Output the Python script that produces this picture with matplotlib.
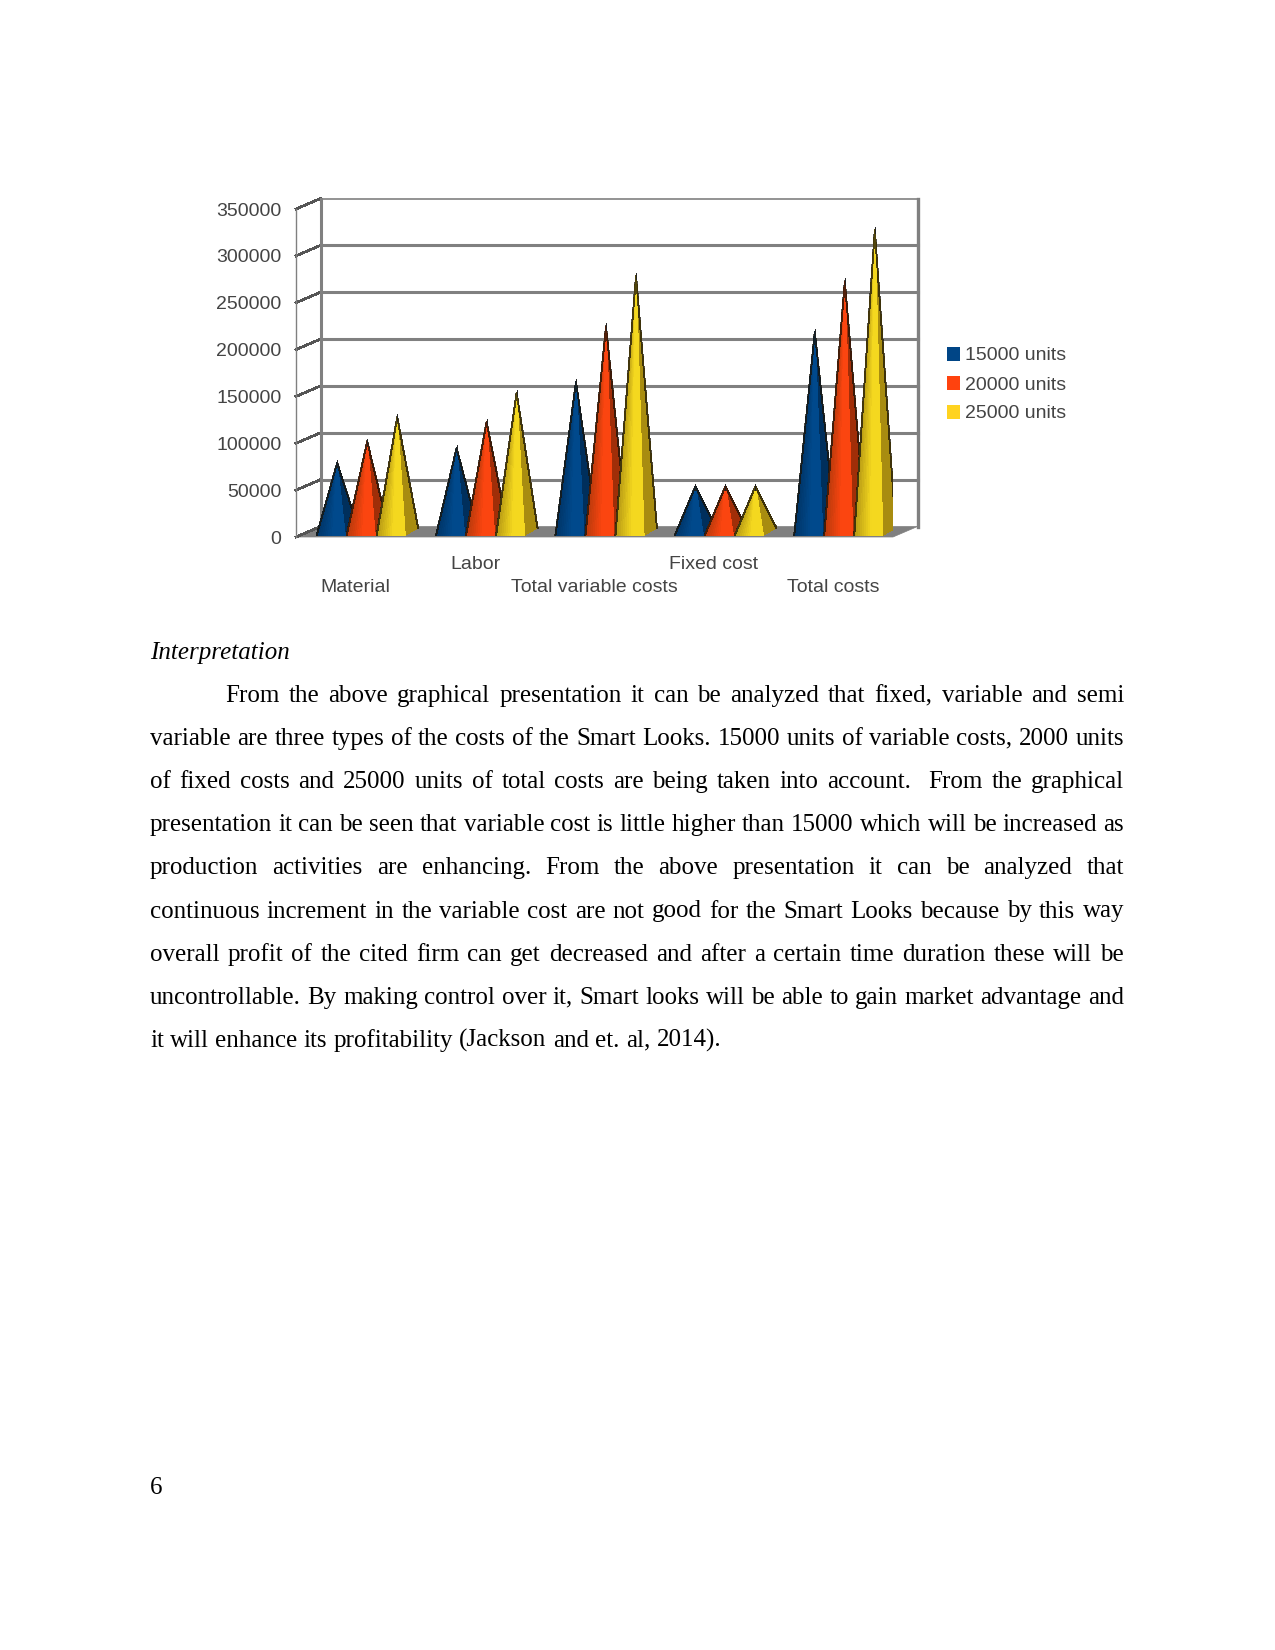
import matplotlib
matplotlib.use("Agg")
import matplotlib.pyplot as plt
import numpy as np
from matplotlib.patches import Polygon, Rectangle

W, H = 1275, 1650

categories = ["Material", "Labor", "Total variable costs", "Fixed cost", "Total costs"]
series_names = ["15000 units", "20000 units", "25000 units"]
units_15000 = [77000, 93000, 164000, 52000, 217000]
units_20000 = [100000, 121000, 223000, 52000, 271000]
units_25000 = [126000, 152000, 277000, 52000, 326000]
y_ticks = [0, 50000, 100000, 150000, 200000, 250000, 300000, 350000]

heading = "Interpretation"
body_lines = [
    "From the above graphical presentation it can be analyzed that fixed, variable and semi",
    "variable are three types of the costs of the Smart Looks. 15000 units of variable costs, 2000 units",
    "of fixed costs and 25000 units of total costs are being taken into account.  From the graphical",
    "presentation it can be seen that variable cost is little higher than 15000 which will be increased as",
    "production activities are enhancing. From the above presentation it can be analyzed that",
    "continuous increment in the variable cost are not good for the Smart Looks because by this way",
    "overall profit of the cited firm can get decreased and after a certain time duration these will be",
    "uncontrollable. By making control over it, Smart looks will be able to gain market advantage and",
    "it will enhance its profitability (Jackson and et. al, 2014).",
]
page_number = "6"

# colours: left of face, ridge of face, shaded side
blue = ("#003567", "#00498c", "#002f5c")
red = ("#b93a0c", "#fb4510", "#a02e08")
yellow = ("#b79a14", "#f4d81f", "#a88c10")
legend_colors = ["#004586", "#ff420e", "#ffd320"]
grey = "#808080"
text_color = "#444444"

fig = plt.figure(figsize=(W / 100, H / 100), dpi=100)
ax = fig.add_axes([296 / W, 1 - 537 / H, (893 - 296) / W, (537 - 209) / H])
ax.set_xlim(-0.5, 4.5)
ax.set_ylim(0, 350000)
ax.patch.set_alpha(0)

# depth of the 3d box in data units
dx = 24.5 / 119.4
dy = 10.5 / 46.9 * 50000

ax.add_patch(Polygon([(-0.5, 0), (4.5, 0), (4.5 + dx, dy), (-0.5 + dx, dy)],
                     facecolor=grey, edgecolor=grey, lw=0.5, clip_on=False, zorder=1))
for t in y_ticks[:-1]:
    if t > 0:
        ax.plot([-0.5 + dx, 4.5 + dx], [t + dy, t + dy], color=grey, lw=2.2, clip_on=False, zorder=1)
    ax.plot([-0.5, -0.5 + dx], [t, t + dy], color="#555555", lw=1.3, clip_on=False,
            antialiased=False, zorder=1)
ax.plot([-0.5, -0.5 + dx], [350000, 350000 + dy], color="#555555", lw=1.3, clip_on=False,
        antialiased=False, zorder=1)
ax.plot([-0.5 + dx, 4.5 + dx], [350000 + dy, 350000 + dy], color=grey, lw=1.2, clip_on=False, zorder=1)
ax.plot([-0.5 + dx, -0.5 + dx], [dy, 350000 + dy], color=grey, lw=2.2, clip_on=False, zorder=1)
ax.plot([4.5 + dx, 4.5 + dx], [dy, 350000 + dy], color=grey, lw=2.4, clip_on=False, zorder=1)


def pyramid(x, v, colors, z):
    # apex at x, front face runs from left to ridge, shaded side ridge to right
    left, ridge, right = x - 0.172, x + 0.065, x + 0.175
    base = 2000
    back = 10000
    ax.add_patch(Polygon([(x, v + base), (ridge, base), (right, back)], facecolor=colors[2],
                         edgecolor=colors[2], lw=0.4, antialiased=False, zorder=z))
    stops = np.linspace(left, ridge, 15)
    c0 = np.array(matplotlib.colors.to_rgb(colors[0]))
    c1 = np.array(matplotlib.colors.to_rgb(colors[1]))
    for i in range(len(stops) - 1):
        f = min(1, (i / 13) * 1.6)
        c = c0 + (c1 - c0) * f
        ax.add_patch(Polygon([(x, v + base), (stops[i], base), (stops[i + 1], base)], facecolor=c,
                             edgecolor=c, lw=0.4, antialiased=False, zorder=z))
    ax.plot([left, x, right], [base, v + base, back], color="#1a1408", lw=0.7, alpha=0.75,
            antialiased=False, zorder=z + 0.1)
    ax.plot([x, x], [v + base - 4000, v + base + 3000], color="#222222", lw=0.7, zorder=z + 0.1)


series = [(units_15000, blue), (units_20000, red), (units_25000, yellow)]
for c in range(len(categories)):
    for s, (vals, cols) in enumerate(series):
        pyramid(c + (s - 1) * 30 / 119.4 + 11.5 / 119.4, vals[c], cols, 3 + c + s * 0.2)

for sp in ax.spines.values():
    sp.set_visible(False)
ax.spines["left"].set_visible(True)
ax.spines["left"].set_color(grey)
ax.spines["left"].set_linewidth(1)

ax.set_yticks(y_ticks)
ax.set_yticklabels([str(t) for t in y_ticks], fontsize=14, color=text_color, family="Liberation Sans")
ax.tick_params(axis="y", length=0, pad=10.5)
ax.set_xticks(range(len(categories)))
ax.set_xticklabels(categories, fontsize=14, color=text_color, family="Liberation Sans")
ax.tick_params(axis="x", length=0)
for i, tick in enumerate(ax.xaxis.get_major_ticks()):
    tick.set_pad(13.5 if i % 2 else 30)

# legend
for i, name in enumerate(series_names):
    y = 354 + i * 29
    fig.add_artist(Rectangle((947 / W, 1 - (y + 6.5) / H), 13 / W, 13 / H, facecolor=legend_colors[i],
                             edgecolor="none", transform=fig.transFigure))
    fig.text(965 / W, 1 - y / H, name, fontsize=14, color=text_color, family="Liberation Sans",
             va="center_baseline")

# page text
serif = "Liberation Serif"
fig.text(150 / W, 1 - 659 / H, heading, fontsize=18, style="italic", family=serif, color="black")
fig.text(150 / W, 1 - 1494 / H, page_number, fontsize=18, family=serif, color="black")

renderer = fig.canvas.get_renderer()


def word_width(s):
    t = fig.text(0, 0, s, fontsize=18, family=serif)
    w = t.get_window_extent(renderer).width
    t.remove()
    return w


space = word_width("a a") - word_width("aa")
for n, line in enumerate(body_lines):
    y = 702 + n * 43.1
    x0 = 225 if n == 0 else 150
    words = line.split(" ")
    widths = [word_width(w) if w else 0 for w in words]
    gap = space
    if n < len(body_lines) - 1:
        gap = (1124 - x0 - sum(widths)) / (len(words) - 1)
    x = x0
    for w, wd in zip(words, widths):
        if w:
            fig.text(x / W, 1 - y / H, w, fontsize=18, family=serif, color="black")
        x += wd + gap

fig.savefig("out.png", dpi=100)
